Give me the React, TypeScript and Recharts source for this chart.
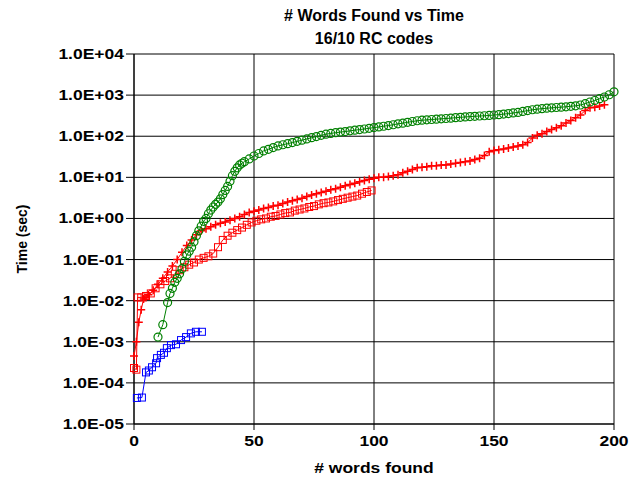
import React from 'react';
import { ScatterChart, Scatter, XAxis, YAxis, CartesianGrid } from 'recharts';

// words found (x) and time in seconds (y) for each run
const blueWords = [1.2, 3.3, 5, 6.2, 7.5, 9.2, 9.6, 11.2, 12.5, 13.7, 15.4, 17.5, 19.6, 21.7, 23.7, 25.8, 28.3];
const blueTimes = [4.3e-5, 4.4e-5, 1.8e-4, 2.0e-4, 2.4e-4, 3.0e-4, 4.0e-4, 4.8e-4, 5.4e-4, 7.0e-4, 8.3e-4, 8.7e-4, 1.1e-3, 1.3e-3, 1.6e-3, 1.75e-3, 1.75e-3];

const redSqWords = [0, 1, 1.5, 3, 5, 7, 9, 11, 13, 15, 17, 19, 21, 23, 25, 27, 29, 31, 33, 35, 37, 39, 41, 43, 45, 47, 49, 51, 53, 55, 57, 59, 61, 63, 65, 67, 69, 71, 73, 75, 77, 79, 81, 83, 85, 87, 89, 91, 93, 95, 97, 99];
const redSqTimes = [2.3e-4, 2.1e-4, 1.2e-2, 1.2e-2, 1.3e-2, 1.5e-2, 2e-2, 2.5e-2, 3e-2, 3.5e-2, 4.5e-2, 5.5e-2, 6.5e-2, 7.5e-2, 8.5e-2, 0.1, 0.11, 0.12, 0.14, 0.2, 0.3, 0.38, 0.45, 0.52, 0.6, 0.7, 0.8, 0.88, 0.95, 1.0, 1.1, 1.15, 1.25, 1.35, 1.4, 1.55, 1.65, 1.75, 1.9, 2.0, 2.2, 2.35, 2.45, 2.6, 2.8, 3.0, 3.2, 3.4, 3.6, 4.0, 4.4, 4.8];

const redPlusWords = [0, 1, 2, 3, 4, 5, 6, 8, 10, 12, 14, 16, 18, 20, 22, 24, 26, 28, 30, 32, 34, 36, 38, 40, 42, 44, 46, 48, 50, 52, 54, 56, 58, 60, 62, 64, 66, 68, 70, 72, 74, 76, 78, 80, 82, 84, 86, 88, 90, 92, 94, 96, 98, 100, 102, 104, 106, 108, 110, 112, 114, 116, 118, 120, 122, 124, 126, 128, 130, 132, 134, 136, 138, 140, 142, 144, 146, 148, 150, 152, 154, 156, 158, 160, 162, 164, 166, 168, 170, 172, 174, 176, 178, 180, 182, 184, 186, 188, 190, 192, 194, 196];
const redPlusTimes = [4.5e-4, 1e-3, 3e-3, 6e-3, 1.1e-2, 1.2e-2, 1.4e-2, 1.8e-2, 2.5e-2, 3.5e-2, 5e-2, 7e-2, 0.1, 0.15, 0.22, 0.3, 0.4, 0.5, 0.56, 0.63, 0.7, 0.76, 0.82, 0.9, 1.0, 1.1, 1.25, 1.4, 1.5, 1.6, 1.75, 1.85, 2.0, 2.1, 2.3, 2.5, 2.7, 2.9, 3.1, 3.4, 3.7, 4.0, 4.3, 4.6, 5.0, 5.3, 5.7, 6.2, 6.7, 7.2, 7.8, 8.4, 9.0, 9.5, 10, 10, 10.5, 11, 11.5, 13, 14, 15.5, 17, 17.5, 18, 19, 19, 20, 20, 21, 22, 23, 24, 25, 27, 29, 34, 42, 45, 47, 49, 52, 55, 58, 62, 70, 90, 105, 115, 130, 145, 160, 180, 210, 240, 280, 330, 420, 490, 510, 540, 580];

const greenWords = [10, 12, 14, 15, 16, 17, 18, 19, 20, 21, 22, 23, 24, 25, 26, 27, 28, 29, 30, 31, 32, 33, 34, 35, 36, 37, 38, 39, 40, 41, 42, 43, 44, 45, 46, 48, 50, 52, 54, 56, 58, 60, 62, 64, 66, 68, 70, 72, 74, 76, 78, 80, 82, 84, 86, 88, 90, 92, 94, 96, 98, 100, 102, 104, 106, 108, 110, 112, 114, 116, 118, 120, 122, 124, 126, 128, 130, 132, 134, 136, 138, 140, 142, 144, 146, 148, 150, 152, 154, 156, 158, 160, 162, 164, 166, 168, 170, 172, 174, 176, 178, 180, 182, 184, 186, 188, 190, 192, 194, 196, 198, 200];
const greenTimes = [1.3e-3, 2.6e-3, 9e-3, 1.5e-2, 2e-2, 2.8e-2, 3.5e-2, 4.5e-2, 6e-2, 9e-2, 0.13, 0.16, 0.2, 0.27, 0.38, 0.5, 0.65, 0.85, 1.0, 1.3, 1.6, 1.9, 2.2, 2.5, 3.0, 3.8, 4.8, 6, 8, 11, 14, 17, 20, 22, 24, 28, 33, 38, 44, 48, 53, 58, 62, 66, 70, 75, 80, 86, 92, 98, 105, 112, 117, 122, 126, 130, 135, 140, 145, 150, 156, 162, 168, 175, 182, 190, 200, 208, 218, 228, 238, 245, 250, 255, 260, 265, 270, 275, 282, 288, 294, 300, 305, 310, 315, 320, 328, 335, 345, 355, 368, 380, 400, 420, 440, 455, 468, 480, 490, 500, 510, 520, 535, 550, 575, 620, 680, 740, 820, 900, 1020, 1200];

const xTicks = [0, 50, 100, 150, 200];
const yTicks = [1e-5, 1e-4, 1e-3, 1e-2, 1e-1, 1, 10, 100, 1000, 10000];

const zip = (xs: number[], ys: number[]) => xs.map((x, i) => ({ x, y: ys[i] }));

const FONT = '"Liberation Sans", Arial, sans-serif';

function fmtExp(v: number) {
    const e = Math.round(Math.log10(v));
    return `1.0E${e < 0 ? '-' : '+'}${String(Math.abs(e)).padStart(2, '0')}`;
}

function XTick({ x, y, payload }: any) {
    return (
        <g transform={`translate(${x},${y})`}>
            <text transform="scale(1.25,1)" textAnchor="middle" dy={14} fontFamily={FONT} fontWeight="bold" fontSize={14} fill="#000">
                {payload.value}
            </text>
        </g>
    );
}

function YTick({ x, y, payload }: any) {
    return (
        <g transform={`translate(${x},${y})`}>
            <text transform="scale(1.25,1)" textAnchor="end" dy={5} fontFamily={FONT} fontWeight="bold" fontSize={14} fill="#000">
                {fmtExp(payload.value)}
            </text>
        </g>
    );
}

const square = (color: string) => (p: any) => (
    <rect x={p.cx - 3.5} y={p.cy - 3.5} width={7} height={7} fill="none" stroke={color} strokeWidth={1} />
);
const ring = (color: string) => (p: any) => (
    <circle cx={p.cx} cy={p.cy} r={4} fill="none" stroke={color} strokeWidth={1.2} />
);
const plus = (color: string) => (p: any) => (
    <path d={`M${p.cx - 4},${p.cy}h8M${p.cx},${p.cy - 4}v8`} stroke={color} strokeWidth={1.5} fill="none" />
);

export default function App() {
    return (
        <div style={{ position: 'absolute', left: 0, top: 0, width: 640, height: 480, background: '#fff' }}>
            <div style={{ position: 'absolute', left: 134, width: 480, top: 4, textAlign: 'center', fontFamily: FONT, fontWeight: 'bold', fontSize: 16, lineHeight: '23px' }}>
                # Words Found vs Time
                <br />
                16/10 RC codes
            </div>
            <ScatterChart width={640} height={480} margin={{ top: 54, right: 26, bottom: 0, left: 0 }}>
                <CartesianGrid stroke="#000" strokeWidth={1} />
                <XAxis
                    type="number"
                    dataKey="x"
                    domain={[0, 200]}
                    ticks={xTicks}
                    height={56}
                    stroke="#000"
                    tickSize={6}
                    tick={<XTick />}
                    label={{
                        content: () => (
                            <text x={374} y={473} textAnchor="middle" fontFamily={FONT} fontWeight="bold" fontSize={14} transform="translate(374,0) scale(1.25,1) translate(-374,0)">
                                # words found
                            </text>
                        ),
                    }}
                />
                <YAxis
                    type="number"
                    dataKey="y"
                    scale="log"
                    domain={[1e-5, 1e4]}
                    allowDataOverflow
                    ticks={yTicks}
                    width={134}
                    stroke="#000"
                    tickSize={8}
                    tick={<YTick />}
                    label={{
                        content: () => (
                            <text x={22} y={239} textAnchor="middle" fontFamily={FONT} fontWeight="bold" fontSize={14} transform="rotate(-90 22 239)" dy={5}>
                                Time (sec)
                            </text>
                        ),
                    }}
                />
                <Scatter data={zip(redSqWords, redSqTimes)} line={{ stroke: '#ff0000', strokeWidth: 1 }} lineType="joint" shape={square('#ff0000')} isAnimationActive={false} />
                <Scatter data={zip(redPlusWords, redPlusTimes)} line={{ stroke: '#ff0000', strokeWidth: 1 }} lineType="joint" shape={plus('#ff0000')} isAnimationActive={false} />
                <Scatter data={zip(greenWords, greenTimes)} line={{ stroke: '#008000', strokeWidth: 1 }} lineType="joint" shape={ring('#008000')} isAnimationActive={false} />
                <Scatter data={zip(blueWords, blueTimes)} line={{ stroke: '#0000ff', strokeWidth: 1 }} lineType="joint" shape={square('#0000ff')} isAnimationActive={false} />
            </ScatterChart>
        </div>
    );
}
